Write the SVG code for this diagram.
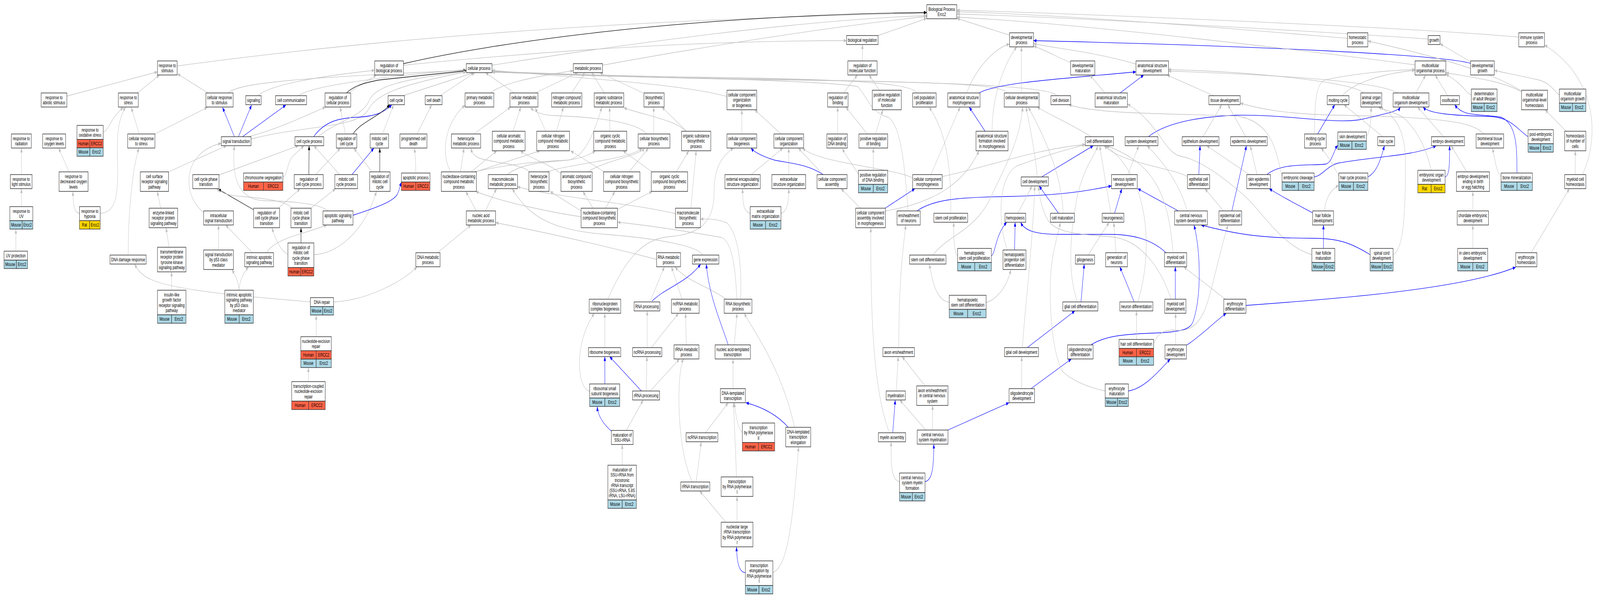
<svg xmlns="http://www.w3.org/2000/svg" width="6341" height="1531" viewBox="0 0 6341 1531" preserveAspectRatio="none">
<defs>
<marker id="ag" viewBox="0 0 10 8" refX="10" refY="4" markerWidth="13" markerHeight="9" markerUnits="userSpaceOnUse" orient="auto"><path d="M0,0L10,4L0,8z" fill="#c0c0c0"/></marker>
<marker id="ab" viewBox="0 0 10 8" refX="10" refY="4" markerWidth="13" markerHeight="9" markerUnits="userSpaceOnUse" orient="auto"><path d="M0,0L10,4L0,8z" fill="#0000ff"/></marker>
<marker id="ak" viewBox="0 0 10 8" refX="10" refY="4" markerWidth="13" markerHeight="9" markerUnits="userSpaceOnUse" orient="auto"><path d="M0,0L10,4L0,8z" fill="#000"/></marker>
</defs>
<style>
svg{width:100vw;height:100vh}
.e path{fill:none;stroke-width:1.3}
.e .g{stroke:#c0c0c0;marker-end:url(#ag)}
.e .b{stroke:#0000ff;marker-end:url(#ab)}
.e .k{stroke:#000;marker-end:url(#ak)}
.n rect{fill:#fff;stroke:#333;stroke-width:1.5}
.n .m{fill:#add8e6}
.n .h{fill:#ff6347}
.n .r{fill:#ffd700}
text{font-family:"Liberation Sans",Arial,sans-serif;font-size:13px;text-anchor:middle;fill:#000}
</style>
<rect width="6341" height="1531" fill="#fff"/>
<g id="connectors" class="e">
<path class="g" d="M702,169 Q2000,55 3673,34"/>
<path class="g" d="M265,246 L624,184"/>
<path class="g" d="M545,238 L632,192"/>
<path class="g" d="M824,238 L703,189"/>
<path class="g" d="M905,238 C940,212 1200,198 1848,180"/>
<path class="g" d="M1022,245 C1060,222 1200,200 1485,180"/>
<path class="g" d="M1183,245 C1230,222 1450,200 1848,178"/>
<path class="g" d="M409,338 C430,335 440,300 489,275"/>
<path class="g" d="M552,343 L520,275"/>
<path class="g" d="M614,343 L822,275"/>
<path class="b" d="M929,350 L882,275"/>
<path class="b" d="M945,350 L997,269"/>
<path class="b" d="M961,350 L1133,269"/>
<path class="g" d="M985,350 C1100,330 1200,300 1290,274"/>
<path class="g" d="M995,356 C1200,320 1420,330 1460,280 C1490,240 1600,215 1848,184"/>
<path class="g" d="M85,447 L85,379"/>
<path class="g" d="M274,440 L232,379"/>
<path class="g" d="M668,440 L898,373"/>
<path class="g" d="M868,448 L1183,373"/>
<path class="g" d="M1121,453 C1140,450 1135,420 1160,400 L1205,373"/>
<path class="g" d="M807,544 C720,500 720,390 877,367"/>
<path class="g" d="M1302,540 C1260,520 1150,515 1050,514 C940,512 918,450 929,373"/>
<path class="k" d="M1005,537 L864,484"/>
<path class="g" d="M1103,533 L1190,483"/>
<path class="g" d="M1155,533 C1140,515 1050,508 960,503 C900,500 880,495 858,483"/>
<path class="g" d="M1232,533 L1330,483"/>
<path class="k" d="M1193,622 L1193,583"/>
<path class="g" d="M1141,652 C1110,640 1090,610 1078,583"/>
<path class="g" d="M1244,652 C1330,650 1440,600 1492,490"/>
<path class="g" d="M637,533 L623,490"/>
<path class="g" d="M670,633 L658,583"/>
<path class="g" d="M680,743 L680,696"/>
<path class="g" d="M866,640 L866,576"/>
<path class="g" d="M1000,647 L894,576"/>
<path class="g" d="M1056,647 C1090,610 1200,600 1296,576"/>
<path class="g" d="M947,743 C945,720 935,708 919,690"/>
<path class="g" d="M947,743 C950,720 962,700 985,683"/>
<path class="g" d="M85,529 L85,483"/>
<path class="g" d="M63,643 L63,587"/>
<path class="g" d="M315,546 C293,546 289,520 289,490"/>
<path class="g" d="M397,546 C480,546 465,460 465,380 C465,320 480,292 498,274"/>
<path class="g" d="M508,653 C508,520 530,420 551,379"/>
<path class="g" d="M1230,773 C1000,760 700,745 600,716 C560,705 545,690 533,676"/>
<path class="g" d="M1322,773 C1450,770 1600,720 1653,683"/>
<path class="g" d="M1253,862 L1253,807"/>
<path class="g" d="M1222,977 L1222,941"/>
<path class="k" d="M1599,163 C1950,110 2700,40 3673,32"/>
<path class="g" d="M1599,167 C2200,128 2800,104 3355,104"/>
<path class="g" d="M1950,167 C2500,110 3200,50 3673,40"/>
<path class="g" d="M1380,238 L1492,192"/>
<path class="k" d="M1373,238 C1400,222 1430,214 1500,205 L1848,181"/>
<path class="g" d="M1597,245 L1878,186"/>
<path class="g" d="M1744,245 L1882,186"/>
<path class="g" d="M1944,238 C1990,214 2100,198 2272,181"/>
<path class="g" d="M2039,238 L1924,186"/>
<path class="g" d="M2121,238 L2290,186"/>
<path class="b" d="M1243,350 C1290,308 1350,302 1420,300 C1480,298 1520,290 1553,268"/>
<path class="g" d="M1260,350 C1330,312 1430,300 1460,262 C1480,225 1560,205 1848,183"/>
<path class="k" d="M1399,343 C1430,312 1500,300 1545,268"/>
<path class="g" d="M1369,343 L1348,274"/>
<path class="g" d="M1516,343 L1560,268"/>
<path class="g" d="M1653,343 L1711,268"/>
<path class="g" d="M1878,343 L2024,274"/>
<path class="g" d="M2033,336 L2064,274"/>
<path class="k" d="M1224,447 L1225,373"/>
<path class="g" d="M1251,447 L1349,379"/>
<path class="g" d="M1346,447 L1244,373"/>
<path class="b" d="M1395,447 L1482,379"/>
<path class="k" d="M1505,440 L1505,379"/>
<path class="g" d="M1474,440 L1402,379"/>
<path class="g" d="M1648,443 C1648,410 1645,400 1643,379"/>
<path class="b" d="M1399,551 C1500,530 1560,515 1575,497 C1582,487 1585,478 1591,466"/>
<path class="g" d="M1825,440 L1839,379"/>
<path class="g" d="M1867,440 L1969,386"/>
<path class="g" d="M1885,440 L2140,386"/>
<path class="g" d="M1878,440 C2030,418 2150,413 2250,410 C2310,405 2340,395 2360,386"/>
<path class="g" d="M1786,440 C1750,400 1755,320 1843,269"/>
<path class="g" d="M2100,442 C2080,420 1960,418 1900,405 C1880,400 1870,390 1866,379"/>
<path class="g" d="M2010,447 C2060,420 2150,415 2250,410 C2320,405 2360,330 2385,274"/>
<path class="g" d="M1923,540 L1968,483"/>
<path class="g" d="M1888,540 L1846,490"/>
<path class="g" d="M1734,647 L1867,576"/>
<path class="g" d="M2602,664 C2400,630 2200,600 1964,570"/>
<path class="g" d="M2677,547 C2500,520 2200,505 2050,478"/>
<path class="g" d="M2784,653 C2770,630 2600,610 2400,600 C2200,590 2100,560 2030,483"/>
<path class="g" d="M2303,555 C2200,545 2000,520 1885,490"/>
<path class="g" d="M2388,167 C2800,118 3300,68 3673,42"/>
<path class="g" d="M2266,238 L2317,186"/>
<path class="g" d="M2395,238 L2345,186"/>
<path class="g" d="M2549,238 L2377,186"/>
<path class="g" d="M2163,336 L2121,276"/>
<path class="g" d="M2205,336 L2233,274"/>
<path class="g" d="M2417,336 L2416,274"/>
<path class="g" d="M2563,343 C2520,310 2350,300 2200,296 C2150,295 2125,288 2102,276"/>
<path class="g" d="M2591,343 L2591,274"/>
<path class="g" d="M2721,336 L2623,274"/>
<path class="g" d="M2717,336 C2680,308 2560,296 2472,276"/>
<path class="g" d="M2881,247 C2700,215 2300,200 1950,180"/>
<path class="g" d="M3634,238 C3620,215 3400,205 3000,200 C2600,196 2200,190 1950,182"/>
<path class="g" d="M3990,238 C3980,215 3700,210 3000,202 C2600,198 2200,191 1950,183"/>
<path class="g" d="M4188,245 C4170,225 3900,210 3000,204 C2500,198 2200,192 1950,184"/>
<path class="g" d="M3599,540 C3585,420 3570,320 3520,300 C3450,290 3430,240 3400,222 C3300,206 2500,196 1950,185"/>
<path class="g" d="M2223,445 C2180,420 2100,405 2062,386"/>
<path class="g" d="M2330,440 C2400,410 2530,400 2555,379"/>
<path class="g" d="M2395,440 L2261,386"/>
<path class="g" d="M2493,440 L2570,379"/>
<path class="g" d="M2584,440 L2469,386"/>
<path class="g" d="M2680,440 L2730,386"/>
<path class="g" d="M2170,440 C2250,420 2500,408 2545,379"/>
<path class="g" d="M2350,533 L2310,490"/>
<path class="g" d="M2400,533 L2437,490"/>
<path class="g" d="M2447,536 L2585,490"/>
<path class="g" d="M2303,540 L2180,490"/>
<path class="g" d="M2920,766 C2915,680 2900,620 2860,608 C2700,590 2550,575 2447,569"/>
<path class="g" d="M2935,766 C2940,690 2930,600 2880,570 C2840,560 2800,560 2776,561"/>
<path class="g" d="M2738,533 L2759,386"/>
<path class="g" d="M2973,547 C2945,540 2943,520 2943,483"/>
<path class="g" d="M3095,547 C3120,540 3126,520 3126,483"/>
<path class="g" d="M2977,447 L3103,379"/>
<path class="g" d="M3126,447 L3126,379"/>
<path class="g" d="M2940,343 L2940,281"/>
<path class="g" d="M3095,343 L2991,281"/>
<path class="g" d="M3262,447 L3164,379"/>
<path class="b" d="M3262,447 C3200,420 3130,418 3070,410 C3020,400 2990,390 2976,379"/>
<path class="g" d="M3617,456 C3550,430 3250,420 3180,379"/>
<path class="g" d="M2409,766 C2480,660 2550,612 2650,606 C2790,600 2830,560 2830,490 C2830,430 2860,400 2907,379"/>
<path class="g" d="M2577,771 L2633,683"/>
<path class="g" d="M2703,766 L2661,683"/>
<path class="g" d="M2878,766 C2800,730 2720,720 2675,683"/>
<path class="b" d="M2584,771 C2640,735 2720,725 2777,676"/>
<path class="b" d="M2886,883 C2860,830 2810,760 2799,676"/>
<path class="g" d="M2397,890 L2397,802"/>
<path class="g" d="M2337,1002 C2280,990 2280,870 2356,802"/>
<path class="b" d="M2397,983 L2397,913"/>
<path class="b" d="M2542,1001 L2416,913"/>
<path class="g" d="M2565,890 L2565,796"/>
<path class="g" d="M2581,890 L2689,802"/>
<path class="g" d="M2720,883 L2717,802"/>
<path class="g" d="M2561,1001 L2564,913"/>
<path class="g" d="M2577,1001 L2693,919"/>
<path class="g" d="M2482,1102 L2549,1024"/>
<path class="b" d="M2423,1104 C2400,1090 2370,1070 2367,1041"/>
<path class="g" d="M2466,1191 L2466,1138"/>
<path class="g" d="M2910,883 L2921,802"/>
<path class="g" d="M2905,995 L2905,919"/>
<path class="g" d="M2796,1108 L2886,1031"/>
<path class="g" d="M2942,1108 C2930,1100 2918,1080 2910,1031"/>
<path class="b" d="M3124,1094 C3080,1062 3020,1042 2956,1031"/>
<path class="g" d="M3149,1094 C3100,950 3000,860 2949,802"/>
<path class="g" d="M2759,1234 L2779,1131"/>
<path class="g" d="M2744,1234 C2680,1150 2680,950 2710,919"/>
<path class="g" d="M2919,1221 L2907,1031"/>
<path class="g" d="M2877,1337 L2773,1257"/>
<path class="g" d="M2921,1337 L2921,1271"/>
<path class="b" d="M2954,1466 C2930,1466 2920,1440 2919,1400"/>
<path class="g" d="M3063,1466 C3120,1450 3140,1350 3165,1144"/>
<path class="g" d="M3480,91 L3673,47"/>
<path class="g" d="M3418,156 L3418,114"/>
<path class="g" d="M3343,238 L3398,192"/>
<path class="g" d="M3485,231 L3444,192"/>
<path class="g" d="M3319,343 L3320,274"/>
<path class="g" d="M3437,343 L3352,274"/>
<path class="g" d="M3470,343 L3499,281"/>
<path class="g" d="M3402,447 C3390,430 3350,400 3339,379"/>
<path class="g" d="M3461,436 L3461,379"/>
<path class="g" d="M3410,533 L3333,483"/>
<path class="b" d="M3508,533 L3626,483"/>
<path class="g" d="M3689,447 L3805,274"/>
<path class="g" d="M3734,452 C3900,430 4100,382 4301,370"/>
<path class="g" d="M3509,540 C3700,520 3820,470 3880,386"/>
<path class="b" d="M3634,540 C3700,510 3800,505 4000,503 C4200,500 4300,490 4405,476"/>
<path class="g" d="M3768,546 C3770,400 3740,330 3682,274"/>
<path class="g" d="M3794,655 C3785,650 3778,620 3780,569"/>
<path class="b" d="M3929,655 C3945,650 3945,600 3990,569"/>
<path class="b" d="M4021,640 L4023,569"/>
<path class="g" d="M3697,653 C3760,600 3870,590 3930,500 C3990,420 4045,350 4053,274"/>
<path class="g" d="M3992,640 C3950,560 3960,450 4030,425 C4150,395 4250,380 4301,370"/>
<path class="g" d="M3762,774 C3720,770 3700,740 3683,676"/>
<path class="g" d="M3908,774 C3940,770 3990,740 4006,690"/>
<path class="g" d="M3562,890 C3562,800 3565,700 3590,576"/>
<path class="g" d="M3552,1001 L3560,913"/>
<path class="g" d="M3666,988 L3575,913"/>
<path class="b" d="M3538,1108 L3548,1024"/>
<path class="g" d="M3525,1108 C3460,1000 3450,800 3451,583"/>
<path class="g" d="M3669,1101 L3566,1024"/>
<path class="g" d="M3696,1101 L3696,1038"/>
<path class="b" d="M3757,1101 L3999,1031"/>
<path class="g" d="M3565,1233 C3530,1230 3530,1180 3532,1131"/>
<path class="b" d="M3666,1233 C3700,1230 3700,1180 3701,1137"/>
<path class="g" d="M4052,890 C4060,800 4090,650 4101,476"/>
<path class="b" d="M4071,890 L4260,796"/>
<path class="g" d="M4049,995 L4049,913"/>
<path class="b" d="M4086,995 L4246,919"/>
<path class="g" d="M4380,1001 C4300,990 4240,970 4210,950 C4170,900 4160,800 4163,720 C4165,650 4195,600 4202,569"/>
<path class="g" d="M4034,546 L4090,476"/>
<path class="b" d="M4195,546 L4118,476"/>
<path class="g" d="M4111,453 C4100,380 4080,320 4066,274"/>
<path class="b" d="M4128,453 L4333,373"/>
<path class="g" d="M4213,546 C4210,450 4140,350 4075,274"/>
<path class="g" d="M4326,350 C4250,320 4150,290 4110,274"/>
<path class="g" d="M3831,238 C3870,170 3950,120 4001,113"/>
<path class="b" d="M3880,238 C3950,212 4200,202 4502,184"/>
<path class="b" d="M3904,336 L3841,274"/>
<path class="g" d="M3932,336 C3930,250 3980,160 4030,120"/>
<path class="g" d="M4048,238 L4048,120"/>
<path class="g" d="M4001,90 L3792,47"/>
<path class="g" d="M4243,160 C4200,150 4150,130 4096,118"/>
<path class="g" d="M4502,164 C4350,135 4200,125 4096,112"/>
<path class="b" d="M5828,162 C5700,140 5000,118 4096,104"/>
<path class="g" d="M5340,98 C5000,80 4300,40 3792,30"/>
<path class="g" d="M5660,100 C5400,88 4300,45 3792,36"/>
<path class="g" d="M6019,95 C5600,70 4300,36 3792,26"/>
<path class="g" d="M5608,166 C5300,140 4300,60 3792,44"/>
<path class="g" d="M4379,238 L4319,192"/>
<path class="b" d="M4439,238 L4533,192"/>
<path class="g" d="M4810,245 L4625,192"/>
<path class="g" d="M5880,343 C5840,315 5750,300 5300,295 C5100,292 5000,280 4915,264"/>
<path class="b" d="M4551,350 C4600,325 4700,300 4900,295 C5100,292 5300,320 5400,305 C5500,290 5540,285 5550,274"/>
<path class="b" d="M6056,350 C6010,330 5990,300 5900,298 C5750,296 5660,290 5640,274"/>
<path class="b" d="M5208,453 C5240,450 5260,425 5300,418 C5450,400 5600,400 5692,373"/>
<path class="b" d="M5202,545 C5130,520 5070,500 5030,483"/>
<path class="g" d="M5250,540 C5250,510 5280,480 5306,476"/>
<path class="b" d="M5222,343 L5290,268"/>
<path class="g" d="M5210,343 C5210,260 5215,215 5250,205 C5350,190 5500,180 5608,178"/>
<path class="g" d="M5306,450 C5280,420 5265,400 5235,379"/>
<path class="b" d="M5021,447 C5080,415 5200,425 5255,420 C5280,415 5285,385 5302,372"/>
<path class="g" d="M5081,452 C5060,400 5050,310 4900,297 C4600,290 4350,292 4235,268"/>
<path class="g" d="M5199,652 C5080,630 5000,540 4930,500 C4860,460 4760,410 4680,400 C4610,390 4600,320 4468,266"/>
<path class="b" d="M5245,636 L5245,576"/>
<path class="g" d="M4982,447 L4955,373"/>
<path class="g" d="M4951,447 L4782,373"/>
<path class="b" d="M4751,447 L4756,373"/>
<path class="g" d="M4705,452 C4650,430 4450,420 4375,373"/>
<path class="g" d="M4849,540 L4775,483"/>
<path class="b" d="M4882,540 L4940,373"/>
<path class="g" d="M4768,350 L4842,268"/>
<path class="g" d="M4937,350 L4866,268"/>
<path class="g" d="M4470,447 L4513,373"/>
<path class="b" d="M4417,546 L4446,483"/>
<path class="g" d="M4403,546 C4390,500 4370,420 4358,373"/>
<path class="b" d="M4670,540 L4509,483"/>
<path class="g" d="M4705,540 C4680,480 4620,420 4546,373"/>
<path class="g" d="M4312,653 L4396,569"/>
<path class="g" d="M4423,647 L4414,569"/>
<path class="b" d="M4284,773 L4297,676"/>
<path class="g" d="M4270,773 C4230,700 4240,600 4270,500 C4300,420 4340,400 4350,373"/>
<path class="b" d="M4495,773 L4438,683"/>
<path class="g" d="M4509,773 C4570,650 4560,450 4380,373"/>
<path class="g" d="M4649,647 C4630,500 4580,420 4385,373"/>
<path class="b" d="M4621,647 C4560,610 4480,600 4400,600 L4200,600 C4100,600 4060,590 4045,569"/>
<path class="g" d="M4856,766 L4691,683"/>
<path class="b" d="M4658,766 L4658,683"/>
<path class="g" d="M4642,768 C4610,700 4530,612 4400,606 C4300,600 4180,600 4150,560 C4125,530 4120,500 4115,476"/>
<path class="b" d="M4323,883 C4380,860 4450,855 4600,852 C4700,848 4720,840 4730,820 C4760,760 4760,650 4732,576"/>
<path class="g" d="M4504,869 L4504,796"/>
<path class="g" d="M4572,880 C4585,860 4600,845 4650,845 C4700,850 4740,840 4770,800 C4800,760 4830,650 4867,576"/>
<path class="g" d="M4659,883 L4659,802"/>
<path class="b" d="M4702,884 C4760,860 4820,820 4860,802"/>
<path class="b" d="M4472,1001 C4530,995 4580,960 4638,919"/>
<path class="b" d="M4937,782 C5300,765 5800,740 6007,684"/>
<path class="b" d="M5430,652 C5350,620 5300,610 5200,610 C5000,610 4900,600 4760,576"/>
<path class="g" d="M5521,652 C5560,640 5570,560 5570,420 C5570,330 5530,300 5470,274"/>
<path class="g" d="M5415,349 C5430,340 5434,300 5434,274"/>
<path class="g" d="M5480,350 L5326,268"/>
<path class="b" d="M5421,453 C5460,440 5475,400 5487,373"/>
<path class="g" d="M5320,245 C5350,220 5450,190 5608,180"/>
<path class="g" d="M5406,238 C5350,210 5000,185 4630,178"/>
<path class="g" d="M5540,238 C5450,205 5000,190 4630,182"/>
<path class="g" d="M5612,238 L5650,192"/>
<path class="g" d="M5737,245 L5688,192"/>
<path class="g" d="M5831,243 C5810,240 5800,215 5730,190"/>
<path class="g" d="M6030,235 C5950,205 5800,195 5730,186"/>
<path class="g" d="M6030,233 C5950,200 5800,160 5421,105"/>
<path class="g" d="M6180,243 C6160,235 6150,215 6100,205 C6000,190 5950,185 5922,180"/>
<path class="g" d="M5828,158 L5707,112"/>
<path class="g" d="M6207,336 L6123,281"/>
<path class="g" d="M6243,447 L6243,386"/>
<path class="g" d="M6272,447 C6340,350 6330,200 6121,115"/>
<path class="g" d="M6068,647 L6220,483"/>
<path class="g" d="M5721,350 L5618,274"/>
<path class="g" d="M5672,436 C5660,400 5630,340 5560,300 C5520,285 5480,280 5462,274"/>
<path class="b" d="M5727,453 C5745,450 5745,420 5745,373"/>
<path class="g" d="M5813,440 L5751,373"/>
<path class="g" d="M5837,540 L5837,490"/>
<path class="g" d="M5837,636 L5837,576"/>
<path class="g" d="M5949,453 C5930,440 5925,410 5915,379"/>
<path class="b" d="M6012,443 C6010,400 6020,320 5950,300 C5850,290 5800,300 5765,268"/>
</g>
<g id="nodes">
<g id="n-rs" class="n"><rect x="624" y="156" width="78" height="36"/><text x="663" y="172">response to</text><text x="663" y="185.3">stimulus</text></g>
<g id="n-ras" class="n"><rect x="163" y="238" width="102" height="36"/><text x="214" y="254">response to</text><text x="214" y="267.3">abiotic stimulus</text></g>
<g id="n-rst" class="n"><rect x="469" y="238" width="79" height="36"/><text x="508.5" y="254">response to</text><text x="508.5" y="267.3">stress</text></g>
<g id="n-crs" class="n"><rect x="816" y="238" width="108" height="36"/><text x="870" y="254">cellular response</text><text x="870" y="267.3">to stimulus</text></g>
<g id="n-sig" class="n"><rect x="974" y="245" width="61" height="23"/><text x="1004.5" y="261">signaling</text></g>
<g id="n-ccom" class="n"><rect x="1092" y="245" width="123" height="23"/><text x="1153.5" y="261">cell communication</text></g>
<g id="n-rrad" class="n"><rect x="45" y="343" width="79" height="36"/><text x="84.5" y="359">response to</text><text x="84.5" y="372.3">radiation</text></g>
<g id="n-rox" class="n"><rect x="169" y="343" width="91" height="36"/><text x="214.5" y="359">response to</text><text x="214.5" y="372.3">oxygen levels</text></g>
<g id="n-ros" class="n"><rect x="305" y="321" width="104" height="36"/><text x="357" y="337">response to</text><text x="357" y="350.3">oxidative stress</text><rect class="h" x="305" y="357" width="51" height="21.5"/><rect class="h" x="356" y="357" width="53" height="21.5"/><text x="330.5" y="372">Human</text><text x="382.5" y="372">ERCC2</text><rect class="m" x="305" y="378.5" width="51" height="21.5"/><rect class="m" x="356" y="378.5" width="53" height="21.5"/><text x="330.5" y="393.5">Mouse</text><text x="382.5" y="393.5">Ercc2</text></g>
<g id="n-crst" class="n"><rect x="506" y="343" width="108" height="36"/><text x="560" y="359">cellular response</text><text x="560" y="372.3">to stress</text></g>
<g id="n-st" class="n"><rect x="877" y="350" width="118" height="23"/><text x="936" y="366">signal transduction</text></g>
<g id="n-rls" class="n"><rect x="41" y="447" width="86" height="36"/><text x="84" y="463">response to</text><text x="84" y="476.3">light stimulus</text></g>
<g id="n-rdol" class="n"><rect x="234" y="440" width="115" height="50"/><text x="291.5" y="456">response to</text><text x="291.5" y="469.3">decreased oxygen</text><text x="291.5" y="482.6">levels</text></g>
<g id="n-csrsp" class="n"><rect x="556" y="440" width="112" height="50"/><text x="612" y="456">cell surface</text><text x="612" y="469.3">receptor signaling</text><text x="612" y="482.6">pathway</text></g>
<g id="n-ccpt" class="n"><rect x="764" y="447" width="104" height="36"/><text x="816" y="463">cell cycle phase</text><text x="816" y="476.3">transition</text></g>
<g id="n-chs" class="n"><rect x="965" y="443" width="156" height="23"/><text x="1043" y="459">chromosome segregation</text><rect class="h" x="965" y="466" width="79" height="21.5"/><rect class="h" x="1044" y="466" width="77" height="21.5"/><text x="1004.5" y="481">Human</text><text x="1082.5" y="481">ERCC2</text></g>
<g id="n-ruv" class="n"><rect x="39" y="529" width="91" height="36"/><text x="84.5" y="545">response to</text><text x="84.5" y="558.3">UV</text><rect class="m" x="39" y="565" width="49" height="21.5"/><rect class="m" x="88" y="565" width="42" height="21.5"/><text x="63.5" y="580">Mouse</text><text x="109" y="580">Ercc2</text></g>
<g id="n-rhyp" class="n"><rect x="315" y="529" width="82" height="36"/><text x="356" y="545">response to</text><text x="356" y="558.3">hypoxia</text><rect class="r" x="315" y="565" width="40" height="21.5"/><rect class="r" x="355" y="565" width="42" height="21.5"/><text x="335" y="580">Rat</text><text x="376" y="580">Ercc2</text></g>
<g id="n-elrp" class="n"><rect x="591" y="533" width="113" height="50"/><text x="647.5" y="549">enzyme-linked</text><text x="647.5" y="562.3">receptor protein</text><text x="647.5" y="575.6">signaling pathway</text></g>
<g id="n-ist" class="n"><rect x="807" y="540" width="118" height="36"/><text x="866" y="556">intracellular</text><text x="866" y="569.3">signal transduction</text></g>
<g id="n-rccpt" class="n"><rect x="1005" y="533" width="103" height="50"/><text x="1056.5" y="549">regulation of</text><text x="1056.5" y="562.3">cell cycle phase</text><text x="1056.5" y="575.6">transition</text></g>
<g id="n-uvp" class="n"><rect x="16" y="643" width="93" height="23"/><text x="62.5" y="659">UV protection</text><rect class="m" x="16" y="666" width="49" height="21.5"/><rect class="m" x="65" y="666" width="44" height="21.5"/><text x="40.5" y="681">Mouse</text><text x="87" y="681">Ercc2</text></g>
<g id="n-ddr" class="n"><rect x="436" y="653" width="143" height="23"/><text x="507.5" y="669">DNA damage response</text></g>
<g id="n-trtk" class="n"><rect x="624" y="633" width="113" height="63"/><text x="680.5" y="649">transmembrane</text><text x="680.5" y="662.3">receptor protein</text><text x="680.5" y="675.6">tyrosine kinase</text><text x="680.5" y="688.9">signaling pathway</text></g>
<g id="n-stp53" class="n"><rect x="807" y="640" width="118" height="50"/><text x="866" y="656">signal transduction</text><text x="866" y="669.3">by p53 class</text><text x="866" y="682.6">mediator</text></g>
<g id="n-ias" class="n"><rect x="970" y="647" width="114" height="36"/><text x="1027" y="663">intrinsic apoptotic</text><text x="1027" y="676.3">signaling pathway</text></g>
<g id="n-igf" class="n"><rect x="624" y="743" width="113" height="63"/><text x="680.5" y="759">insulin-like</text><text x="680.5" y="772.3">growth factor</text><text x="680.5" y="785.6">receptor signaling</text><text x="680.5" y="798.9">pathway</text><rect class="m" x="624" y="806" width="56" height="21.5"/><rect class="m" x="680" y="806" width="57" height="21.5"/><text x="652" y="821">Mouse</text><text x="708.5" y="821">Ercc2</text></g>
<g id="n-iasp53" class="n"><rect x="891" y="743" width="113" height="63"/><text x="947.5" y="759">intrinsic apoptotic</text><text x="947.5" y="772.3">signaling pathway</text><text x="947.5" y="785.6">by p53 class</text><text x="947.5" y="798.9">mediator</text><rect class="m" x="891" y="806" width="57" height="21.5"/><rect class="m" x="948" y="806" width="56" height="21.5"/><text x="919.5" y="821">Mouse</text><text x="976" y="821">Ercc2</text></g>
<g id="n-rbp" class="n"><rect x="1485" y="156" width="114" height="36"/><text x="1542" y="172">regulation of</text><text x="1542" y="185.3">biological process</text></g>
<g id="n-cp" class="n"><rect x="1848" y="163" width="102" height="23"/><text x="1899" y="179">cellular process</text></g>
<g id="n-rcp" class="n"><rect x="1288" y="238" width="102" height="36"/><text x="1339" y="254">regulation of</text><text x="1339" y="267.3">cellular process</text></g>
<g id="n-cc" class="n"><rect x="1538" y="245" width="65" height="23"/><text x="1570.5" y="261">cell cycle</text></g>
<g id="n-cd" class="n"><rect x="1685" y="245" width="67" height="23"/><text x="1718.5" y="261">cell death</text></g>
<g id="n-pmp" class="n"><rect x="1843" y="238" width="114" height="36"/><text x="1900" y="254">primary metabolic</text><text x="1900" y="267.3">process</text></g>
<g id="n-cmp" class="n"><rect x="2021" y="238" width="111" height="36"/><text x="2076.5" y="254">cellular metabolic</text><text x="2076.5" y="267.3">process</text></g>
<g id="n-ccp" class="n"><rect x="1169" y="350" width="114" height="23"/><text x="1226" y="366">cell cycle process</text></g>
<g id="n-rcc" class="n"><rect x="1333" y="343" width="81" height="36"/><text x="1373.5" y="359">regulation of</text><text x="1373.5" y="372.3">cell cycle</text></g>
<g id="n-mcc" class="n"><rect x="1467" y="343" width="73" height="36"/><text x="1503.5" y="359">mitotic cell</text><text x="1503.5" y="372.3">cycle</text></g>
<g id="n-pcd" class="n"><rect x="1585" y="343" width="107" height="36"/><text x="1638.5" y="359">programmed cell</text><text x="1638.5" y="372.3">death</text></g>
<g id="n-hmp" class="n"><rect x="1789" y="343" width="116" height="36"/><text x="1847" y="359">heterocycle</text><text x="1847" y="372.3">metabolic process</text></g>
<g id="n-cacmp" class="n"><rect x="1951" y="336" width="130" height="50"/><text x="2016" y="352">cellular aromatic</text><text x="2016" y="365.3">compound metabolic</text><text x="2016" y="378.6">process</text></g>
<g id="n-cncmp" class="n"><rect x="2127" y="336" width="130" height="50"/><text x="2192" y="352">cellular nitrogen</text><text x="2192" y="365.3">compound metabolic</text><text x="2192" y="378.6">process</text></g>
<g id="n-rccp" class="n"><rect x="1166" y="447" width="115" height="36"/><text x="1223.5" y="463">regulation of</text><text x="1223.5" y="476.3">cell cycle process</text></g>
<g id="n-mccp" class="n"><rect x="1327" y="447" width="90" height="36"/><text x="1372" y="463">mitotic cell</text><text x="1372" y="476.3">cycle process</text></g>
<g id="n-rmcc" class="n"><rect x="1465" y="440" width="81" height="50"/><text x="1505.5" y="456">regulation of</text><text x="1505.5" y="469.3">mitotic cell</text><text x="1505.5" y="482.6">cycle</text></g>
<g id="n-ap" class="n"><rect x="1591" y="443" width="113" height="23"/><text x="1647.5" y="459">apoptotic process</text><rect class="h" x="1591" y="466" width="57" height="21.5"/><rect class="h" x="1648" y="466" width="56" height="21.5"/><text x="1619.5" y="481">Human</text><text x="1676" y="481">ERCC2</text></g>
<g id="n-nccmp" class="n"><rect x="1749" y="440" width="139" height="50"/><text x="1818.5" y="456">nucleobase-containing</text><text x="1818.5" y="469.3">compound metabolic</text><text x="1818.5" y="482.6">process</text></g>
<g id="n-mmp" class="n"><rect x="1935" y="447" width="116" height="36"/><text x="1993" y="463">macromolecule</text><text x="1993" y="476.3">metabolic process</text></g>
<g id="n-hbp" class="n"><rect x="2096" y="440" width="80" height="50"/><text x="2136" y="456">heterocycle</text><text x="2136" y="469.3">biosynthetic</text><text x="2136" y="482.6">process</text></g>
<g id="n-mccpt" class="n"><rect x="1153" y="533" width="80" height="50"/><text x="1193" y="549">mitotic cell</text><text x="1193" y="562.3">cycle phase</text><text x="1193" y="575.6">transition</text></g>
<g id="n-asp" class="n"><rect x="1280" y="540" width="119" height="36"/><text x="1339.5" y="556">apoptotic signaling</text><text x="1339.5" y="569.3">pathway</text></g>
<g id="n-namp" class="n"><rect x="1848" y="540" width="116" height="36"/><text x="1906" y="556">nucleic acid</text><text x="1906" y="569.3">metabolic process</text></g>
<g id="n-rmccpt" class="n"><rect x="1141" y="622" width="103" height="63"/><text x="1192.5" y="638">regulation of</text><text x="1192.5" y="651.3">mitotic cell</text><text x="1192.5" y="664.6">cycle phase</text><text x="1192.5" y="677.9">transition</text><rect class="h" x="1141" y="685" width="51" height="21.5"/><rect class="h" x="1192" y="685" width="52" height="21.5"/><text x="1166.5" y="700">Human</text><text x="1218" y="700">ERCC2</text></g>
<g id="n-dnamp" class="n"><rect x="1648" y="647" width="96" height="36"/><text x="1696" y="663">DNA metabolic</text><text x="1696" y="676.3">process</text></g>
<g id="n-dnar" class="n"><rect x="1230" y="762" width="92" height="23"/><text x="1276" y="778">DNA repair</text><rect class="m" x="1230" y="785" width="49" height="21.5"/><rect class="m" x="1279" y="785" width="43" height="21.5"/><text x="1254.5" y="800">Mouse</text><text x="1300.5" y="800">Ercc2</text></g>
<g id="n-ner" class="n"><rect x="1192" y="862" width="121" height="36"/><text x="1252.5" y="878">nucleotide-excision</text><text x="1252.5" y="891.3">repair</text><rect class="h" x="1192" y="898" width="61" height="21.5"/><rect class="h" x="1253" y="898" width="60" height="21.5"/><text x="1222.5" y="913">Human</text><text x="1283" y="913">ERCC2</text><rect class="m" x="1192" y="919.5" width="61" height="21.5"/><rect class="m" x="1253" y="919.5" width="60" height="21.5"/><text x="1222.5" y="934.5">Mouse</text><text x="1283" y="934.5">Ercc2</text></g>
<g id="n-tcner" class="n"><rect x="1156" y="977" width="133" height="50"/><text x="1222.5" y="993">transcription-coupled</text><text x="1222.5" y="1006.3">nucleotide-excision</text><text x="1222.5" y="1019.6">repair</text><rect class="h" x="1156" y="1027" width="67" height="21.5"/><rect class="h" x="1223" y="1027" width="66" height="21.5"/><text x="1189.5" y="1042">Human</text><text x="1256" y="1042">ERCC2</text></g>
<g id="n-mp" class="n"><rect x="2272" y="163" width="116" height="23"/><text x="2330" y="179">metabolic process</text></g>
<g id="n-ncmp" class="n"><rect x="2186" y="238" width="120" height="36"/><text x="2246" y="254">nitrogen compound</text><text x="2246" y="267.3">metabolic process</text></g>
<g id="n-osmp" class="n"><rect x="2355" y="238" width="117" height="36"/><text x="2413.5" y="254">organic substance</text><text x="2413.5" y="267.3">metabolic process</text></g>
<g id="n-bsp" class="n"><rect x="2552" y="238" width="80" height="36"/><text x="2592" y="254">biosynthetic</text><text x="2592" y="267.3">process</text></g>
<g id="n-ccob" class="n"><rect x="2881" y="231" width="118" height="50"/><text x="2940" y="247">cellular component</text><text x="2940" y="260.3">organization</text><text x="2940" y="273.6">or biogenesis</text></g>
<g id="n-occmp" class="n"><rect x="2353" y="336" width="131" height="50"/><text x="2418.5" y="352">organic cyclic</text><text x="2418.5" y="365.3">compound metabolic</text><text x="2418.5" y="378.6">process</text></g>
<g id="n-cbp" class="n"><rect x="2529" y="343" width="126" height="36"/><text x="2592" y="359">cellular biosynthetic</text><text x="2592" y="372.3">process</text></g>
<g id="n-osbp" class="n"><rect x="2701" y="336" width="116" height="50"/><text x="2759" y="352">organic substance</text><text x="2759" y="365.3">biosynthetic</text><text x="2759" y="378.6">process</text></g>
<g id="n-ccb" class="n"><rect x="2881" y="343" width="118" height="36"/><text x="2940" y="359">cellular component</text><text x="2940" y="372.3">biogenesis</text></g>
<g id="n-cco" class="n"><rect x="3067" y="343" width="118" height="36"/><text x="3126" y="359">cellular component</text><text x="3126" y="372.3">organization</text></g>
<g id="n-acbp" class="n"><rect x="2223" y="440" width="124" height="50"/><text x="2285" y="456">aromatic compound</text><text x="2285" y="469.3">biosynthetic</text><text x="2285" y="482.6">process</text></g>
<g id="n-cncbp" class="n"><rect x="2392" y="440" width="144" height="50"/><text x="2464" y="456">cellular nitrogen</text><text x="2464" y="469.3">compound biosynthetic</text><text x="2464" y="482.6">process</text></g>
<g id="n-occbp" class="n"><rect x="2581" y="440" width="144" height="50"/><text x="2653" y="456">organic cyclic</text><text x="2653" y="469.3">compound biosynthetic</text><text x="2653" y="482.6">process</text></g>
<g id="n-eeso" class="n"><rect x="2873" y="447" width="140" height="36"/><text x="2943" y="463">external encapsulating</text><text x="2943" y="476.3">structure organization</text></g>
<g id="n-eso" class="n"><rect x="3059" y="447" width="134" height="36"/><text x="3126" y="463">extracellular</text><text x="3126" y="476.3">structure organization</text></g>
<g id="n-nccbp" class="n"><rect x="2303" y="533" width="144" height="50"/><text x="2375" y="549">nucleobase-containing</text><text x="2375" y="562.3">compound biosynthetic</text><text x="2375" y="575.6">process</text></g>
<g id="n-mbp" class="n"><rect x="2677" y="533" width="99" height="50"/><text x="2726.5" y="549">macromolecule</text><text x="2726.5" y="562.3">biosynthetic</text><text x="2726.5" y="575.6">process</text></g>
<g id="n-ecmo" class="n"><rect x="2973" y="529" width="122" height="36"/><text x="3034" y="545">extracellular</text><text x="3034" y="558.3">matrix organization</text><rect class="m" x="2973" y="565" width="61" height="21.5"/><rect class="m" x="3034" y="565" width="61" height="21.5"/><text x="3003.5" y="580">Mouse</text><text x="3064.5" y="580">Ercc2</text></g>
<g id="n-rnamp" class="n"><rect x="2602" y="647" width="95" height="36"/><text x="2649.5" y="663">RNA metabolic</text><text x="2649.5" y="676.3">process</text></g>
<g id="n-ge" class="n"><rect x="2744" y="653" width="105" height="23"/><text x="2796.5" y="669">gene expression</text></g>
<g id="n-rnpcb" class="n"><rect x="2335" y="766" width="125" height="36"/><text x="2397.5" y="782">ribonucleoprotein</text><text x="2397.5" y="795.3">complex biogenesis</text></g>
<g id="n-rnap" class="n"><rect x="2513" y="773" width="102" height="23"/><text x="2564" y="789">RNA processing</text></g>
<g id="n-ncrnamp" class="n"><rect x="2661" y="766" width="110" height="36"/><text x="2716" y="782">ncRNA metabolic</text><text x="2716" y="795.3">process</text></g>
<g id="n-rnabp" class="n"><rect x="2870" y="766" width="110" height="36"/><text x="2925" y="782">RNA biosynthetic</text><text x="2925" y="795.3">process</text></g>
<g id="n-rbg" class="n"><rect x="2332" y="890" width="128" height="23"/><text x="2396" y="906">ribosome biogenesis</text></g>
<g id="n-ncrnap" class="n"><rect x="2507" y="890" width="116" height="23"/><text x="2565" y="906">ncRNA processing</text></g>
<g id="n-rrnamp" class="n"><rect x="2671" y="883" width="99" height="36"/><text x="2720.5" y="899">rRNA metabolic</text><text x="2720.5" y="912.3">process</text></g>
<g id="n-natt" class="n"><rect x="2834" y="883" width="140" height="36"/><text x="2904" y="899">nucleic acid-templated</text><text x="2904" y="912.3">transcription</text></g>
<g id="n-rssb" class="n"><rect x="2337" y="983" width="119" height="36"/><text x="2396.5" y="999">ribosomal small</text><text x="2396.5" y="1012.3">subunit biogenesis</text><rect class="m" x="2337" y="1019" width="60" height="21.5"/><rect class="m" x="2397" y="1019" width="59" height="21.5"/><text x="2367" y="1034">Mouse</text><text x="2426.5" y="1034">Ercc2</text></g>
<g id="n-rrnap" class="n"><rect x="2507" y="1001" width="107" height="23"/><text x="2560.5" y="1017">rRNA processing</text></g>
<g id="n-dtt" class="n"><rect x="2855" y="995" width="99" height="36"/><text x="2904.5" y="1011">DNA-templated</text><text x="2904.5" y="1024.3">transcription</text></g>
<g id="n-mssu" class="n"><rect x="2423" y="1102" width="86" height="36"/><text x="2466" y="1118">maturation of</text><text x="2466" y="1131.3">SSU-rRNA</text></g>
<g id="n-ncrnat" class="n"><rect x="2719" y="1108" width="126" height="23"/><text x="2782" y="1124">ncRNA transcription</text></g>
<g id="n-trp2" class="n"><rect x="2942" y="1083" width="128" height="50"/><text x="3006" y="1099">transcription</text><text x="3006" y="1112.3">by RNA polymerase</text><text x="3006" y="1125.6">II</text><rect class="h" x="2942" y="1133" width="64" height="21.5"/><rect class="h" x="3006" y="1133" width="64" height="21.5"/><text x="2974" y="1148">Human</text><text x="3038" y="1148">ERCC2</text></g>
<g id="n-dtte" class="n"><rect x="3114" y="1094" width="99" height="50"/><text x="3163.5" y="1110">DNA-templated</text><text x="3163.5" y="1123.3">transcription</text><text x="3163.5" y="1136.6">elongation</text></g>
<g id="n-mssut" class="n"><rect x="2409" y="1191" width="113" height="89"/><text x="2465.5" y="1207">maturation of</text><text x="2465.5" y="1220.3">SSU-rRNA from</text><text x="2465.5" y="1233.6">tricistronic</text><text x="2465.5" y="1246.9">rRNA transcript</text><text x="2465.5" y="1260.2">(SSU-rRNA, 5.8S</text><text x="2465.5" y="1273.5">rRNA, LSU-rRNA)</text><rect class="m" x="2409" y="1280" width="57" height="21.5"/><rect class="m" x="2466" y="1280" width="56" height="21.5"/><text x="2437.5" y="1295">Mouse</text><text x="2494" y="1295">Ercc2</text></g>
<g id="n-rrnat" class="n"><rect x="2698" y="1234" width="115" height="23"/><text x="2755.5" y="1250">rRNA transcription</text></g>
<g id="n-trp1" class="n"><rect x="2858" y="1221" width="126" height="50"/><text x="2921" y="1237">transcription</text><text x="2921" y="1250.3">by RNA polymerase</text><text x="2921" y="1263.6">I</text></g>
<g id="n-nlrt" class="n"><rect x="2858" y="1337" width="126" height="63"/><text x="2921" y="1353">nucleolar large</text><text x="2921" y="1366.3">rRNA transcription</text><text x="2921" y="1379.6">by RNA polymerase</text><text x="2921" y="1392.9">I</text></g>
<g id="n-terp1" class="n"><rect x="2954" y="1436" width="109" height="63"/><text x="3008.5" y="1452">transcription</text><text x="3008.5" y="1465.3">elongation by</text><text x="3008.5" y="1478.6">RNA polymerase</text><text x="3008.5" y="1491.9">I</text><rect class="m" x="2954" y="1499" width="54" height="21.5"/><rect class="m" x="3008" y="1499" width="55" height="21.5"/><text x="2981" y="1514">Mouse</text><text x="3035.5" y="1514">Ercc2</text></g>
<g id="n-bp" class="n"><rect x="3673" y="12" width="119" height="36"/><text x="3732.5" y="28">Biological Process</text><text x="3732.5" y="41.3">Ercc2</text></g>
<g id="n-br" class="n"><rect x="3355" y="91" width="125" height="23"/><text x="3417.5" y="107">biological regulation</text></g>
<g id="n-dp" class="n"><rect x="4001" y="84" width="95" height="36"/><text x="4048.5" y="100">developmental</text><text x="4048.5" y="113.3">process</text></g>
<g id="n-rmf" class="n"><rect x="3360" y="156" width="116" height="36"/><text x="3418" y="172">regulation of</text><text x="3418" y="185.3">molecular function</text></g>
<g id="n-rbd" class="n"><rect x="3280" y="238" width="81" height="36"/><text x="3320.5" y="254">regulation of</text><text x="3320.5" y="267.3">binding</text></g>
<g id="n-prmf" class="n"><rect x="3457" y="231" width="115" height="50"/><text x="3514.5" y="247">positive regulation</text><text x="3514.5" y="260.3">of molecular</text><text x="3514.5" y="273.6">function</text></g>
<g id="n-cpp" class="n"><rect x="3617" y="238" width="93" height="36"/><text x="3663.5" y="254">cell population</text><text x="3663.5" y="267.3">proliferation</text></g>
<g id="n-asm" class="n"><rect x="3756" y="238" width="128" height="36"/><text x="3820" y="254">anatomical structure</text><text x="3820" y="267.3">morphogenesis</text></g>
<g id="n-cdp" class="n"><rect x="3980" y="238" width="138" height="36"/><text x="4049" y="254">cellular developmental</text><text x="4049" y="267.3">process</text></g>
<g id="n-cdiv" class="n"><rect x="4165" y="245" width="78" height="23"/><text x="4204" y="261">cell division</text></g>
<g id="n-rdb" class="n"><rect x="3277" y="343" width="81" height="36"/><text x="3317.5" y="359">regulation of</text><text x="3317.5" y="372.3">DNA binding</text></g>
<g id="n-prb" class="n"><rect x="3404" y="343" width="114" height="36"/><text x="3461" y="359">positive regulation</text><text x="3461" y="372.3">of binding</text></g>
<g id="n-asfm" class="n"><rect x="3868" y="336" width="127" height="50"/><text x="3931.5" y="352">anatomical structure</text><text x="3931.5" y="365.3">formation involved</text><text x="3931.5" y="378.6">in morphogenesis</text></g>
<g id="n-cca" class="n"><rect x="3238" y="447" width="119" height="36"/><text x="3297.5" y="463">cellular component</text><text x="3297.5" y="476.3">assembly</text></g>
<g id="n-prdb" class="n"><rect x="3402" y="436" width="116" height="36"/><text x="3460" y="452">positive regulation</text><text x="3460" y="465.3">of DNA binding</text><rect class="m" x="3402" y="472" width="59" height="21.5"/><rect class="m" x="3461" y="472" width="57" height="21.5"/><text x="3431.5" y="487">Mouse</text><text x="3489.5" y="487">Ercc2</text></g>
<g id="n-ccm" class="n"><rect x="3617" y="447" width="117" height="36"/><text x="3675.5" y="463">cellular component</text><text x="3675.5" y="476.3">morphogenesis</text></g>
<g id="n-cdev" class="n"><rect x="4047" y="453" width="108" height="23"/><text x="4101" y="469">cell development</text></g>
<g id="n-ccaim" class="n"><rect x="3391" y="533" width="118" height="50"/><text x="3450" y="549">cellular component</text><text x="3450" y="562.3">assembly involved</text><text x="3450" y="575.6">in morphogenesis</text></g>
<g id="n-eon" class="n"><rect x="3555" y="540" width="92" height="36"/><text x="3601" y="556">ensheathment</text><text x="3601" y="569.3">of neurons</text></g>
<g id="n-scp" class="n"><rect x="3701" y="546" width="134" height="23"/><text x="3768" y="562">stem cell proliferation</text></g>
<g id="n-hem" class="n"><rect x="3983" y="546" width="82" height="23"/><text x="4024" y="562">hemopoiesis</text></g>
<g id="n-cmat" class="n"><rect x="4163" y="546" width="95" height="23"/><text x="4210.5" y="562">cell maturation</text></g>
<g id="n-scd" class="n"><rect x="3605" y="653" width="144" height="23"/><text x="3677" y="669">stem cell differentiation</text></g>
<g id="n-hscp" class="n"><rect x="3795" y="636" width="134" height="36"/><text x="3862" y="652">hematopoietic</text><text x="3862" y="665.3">stem cell proliferation</text><rect class="m" x="3795" y="672" width="68" height="21.5"/><rect class="m" x="3863" y="672" width="66" height="21.5"/><text x="3829" y="687">Mouse</text><text x="3896" y="687">Ercc2</text></g>
<g id="n-hpcd" class="n"><rect x="3975" y="640" width="91" height="50"/><text x="4020.5" y="656">hematopoietic</text><text x="4020.5" y="669.3">progenitor cell</text><text x="4020.5" y="682.6">differentiation</text></g>
<g id="n-hscd" class="n"><rect x="3762" y="756" width="146" height="36"/><text x="3835" y="772">hematopoietic</text><text x="3835" y="785.3">stem cell differentiation</text><rect class="m" x="3762" y="792" width="73" height="21.5"/><rect class="m" x="3835" y="792" width="73" height="21.5"/><text x="3798.5" y="807">Mouse</text><text x="3871.5" y="807">Ercc2</text></g>
<g id="n-ae" class="n"><rect x="3499" y="890" width="125" height="23"/><text x="3561.5" y="906">axon ensheathment</text></g>
<g id="n-gcdev" class="n"><rect x="3981" y="890" width="135" height="23"/><text x="4048.5" y="906">glial cell development</text></g>
<g id="n-gcd" class="n"><rect x="4212" y="773" width="139" height="23"/><text x="4281.5" y="789">glial cell differentiation</text></g>
<g id="n-myel" class="n"><rect x="3512" y="1001" width="76" height="23"/><text x="3550" y="1017">myelination</text></g>
<g id="n-aecns" class="n"><rect x="3633" y="988" width="124" height="50"/><text x="3695" y="1004">axon ensheathment</text><text x="3695" y="1017.3">in central nervous</text><text x="3695" y="1030.6">system</text></g>
<g id="n-odev" class="n"><rect x="3999" y="995" width="101" height="36"/><text x="4049.5" y="1011">oligodendrocyte</text><text x="4049.5" y="1024.3">development</text></g>
<g id="n-odif" class="n"><rect x="4231" y="883" width="101" height="36"/><text x="4281.5" y="899">oligodendrocyte</text><text x="4281.5" y="912.3">differentiation</text></g>
<g id="n-ma" class="n"><rect x="3481" y="1108" width="108" height="23"/><text x="3535" y="1124">myelin assembly</text></g>
<g id="n-cnsm" class="n"><rect x="3635" y="1101" width="122" height="36"/><text x="3696" y="1117">central nervous</text><text x="3696" y="1130.3">system myelination</text></g>
<g id="n-cnsmf" class="n"><rect x="3565" y="1211" width="101" height="50"/><text x="3615.5" y="1227">central nervous</text><text x="3615.5" y="1240.3">system myelin</text><text x="3615.5" y="1253.6">formation</text><rect class="m" x="3565" y="1261" width="51" height="21.5"/><rect class="m" x="3616" y="1261" width="50" height="21.5"/><text x="3590.5" y="1276">Mouse</text><text x="3641" y="1276">Ercc2</text></g>
<g id="n-dm" class="n"><rect x="4243" y="156" width="96" height="36"/><text x="4291" y="172">developmental</text><text x="4291" y="185.3">maturation</text></g>
<g id="n-asd" class="n"><rect x="4502" y="156" width="129" height="36"/><text x="4566.5" y="172">anatomical structure</text><text x="4566.5" y="185.3">development</text></g>
<g id="n-asmat" class="n"><rect x="4340" y="238" width="128" height="36"/><text x="4404" y="254">anatomical structure</text><text x="4404" y="267.3">maturation</text></g>
<g id="n-td" class="n"><rect x="4791" y="245" width="124" height="23"/><text x="4853" y="261">tissue development</text></g>
<g id="n-mc" class="n"><rect x="5260" y="245" width="86" height="23"/><text x="5303" y="261">molting cycle</text></g>
<g id="n-cdif" class="n"><rect x="4301" y="350" width="112" height="23"/><text x="4357" y="366">cell differentiation</text></g>
<g id="n-sd" class="n"><rect x="4459" y="350" width="130" height="23"/><text x="4524" y="366">system development</text></g>
<g id="n-epd" class="n"><rect x="4685" y="350" width="146" height="23"/><text x="4758" y="366">epithelium development</text></g>
<g id="n-edd" class="n"><rect x="4877" y="350" width="145" height="23"/><text x="4949.5" y="366">epidermis development</text></g>
<g id="n-mcp" class="n"><rect x="5170" y="343" width="86" height="36"/><text x="5213" y="359">molting cycle</text><text x="5213" y="372.3">process</text></g>
<g id="n-nsd" class="n"><rect x="4405" y="447" width="102" height="36"/><text x="4456" y="463">nervous system</text><text x="4456" y="476.3">development</text></g>
<g id="n-ecd" class="n"><rect x="4706" y="447" width="88" height="36"/><text x="4750" y="463">epithelial cell</text><text x="4750" y="476.3">differentiation</text></g>
<g id="n-sed" class="n"><rect x="4941" y="447" width="94" height="36"/><text x="4988" y="463">skin epidermis</text><text x="4988" y="476.3">development</text></g>
<g id="n-ec" class="n"><rect x="5081" y="443" width="127" height="23"/><text x="5144.5" y="459">embryonic cleavage</text><rect class="m" x="5081" y="466" width="65" height="21.5"/><rect class="m" x="5146" y="466" width="62" height="21.5"/><text x="5113.5" y="481">Mouse</text><text x="5177" y="481">Ercc2</text></g>
<g id="n-ng" class="n"><rect x="4368" y="546" width="86" height="23"/><text x="4411" y="562">neurogenesis</text></g>
<g id="n-cnsd" class="n"><rect x="4655" y="540" width="130" height="36"/><text x="4720" y="556">central nervous</text><text x="4720" y="569.3">system development</text></g>
<g id="n-epcd" class="n"><rect x="4831" y="540" width="90" height="36"/><text x="4876" y="556">epidermal cell</text><text x="4876" y="569.3">differentiation</text></g>
<g id="n-hfd" class="n"><rect x="5202" y="540" width="83" height="36"/><text x="5243.5" y="556">hair follicle</text><text x="5243.5" y="569.3">development</text></g>
<g id="n-gg" class="n"><rect x="4262" y="653" width="76" height="23"/><text x="4300" y="669">gliogenesis</text></g>
<g id="n-gon" class="n"><rect x="4382" y="647" width="86" height="36"/><text x="4425" y="663">generation of</text><text x="4425" y="676.3">neurons</text></g>
<g id="n-mycd" class="n"><rect x="4615" y="647" width="88" height="36"/><text x="4659" y="663">myeloid cell</text><text x="4659" y="676.3">differentiation</text></g>
<g id="n-hfm" class="n"><rect x="5199" y="636" width="91" height="36"/><text x="5244.5" y="652">hair follicle</text><text x="5244.5" y="665.3">maturation</text><rect class="m" x="5199" y="672" width="49" height="21.5"/><rect class="m" x="5248" y="672" width="42" height="21.5"/><text x="5223.5" y="687">Mouse</text><text x="5269" y="687">Ercc2</text></g>
<g id="n-nd" class="n"><rect x="4438" y="773" width="131" height="23"/><text x="4503.5" y="789">neuron differentiation</text></g>
<g id="n-mycdev" class="n"><rect x="4616" y="766" width="84" height="36"/><text x="4658" y="782">myeloid cell</text><text x="4658" y="795.3">development</text></g>
<g id="n-erd" class="n"><rect x="4850" y="766" width="88" height="36"/><text x="4894" y="782">erythrocyte</text><text x="4894" y="795.3">differentiation</text></g>
<g id="n-hcd" class="n"><rect x="4435" y="869" width="137" height="23"/><text x="4503.5" y="885">hair cell differentiation</text><rect class="h" x="4435" y="892" width="69" height="21.5"/><rect class="h" x="4504" y="892" width="68" height="21.5"/><text x="4469.5" y="907">Human</text><text x="4538" y="907">ERCC2</text><rect class="m" x="4435" y="913.5" width="69" height="21.5"/><rect class="m" x="4504" y="913.5" width="68" height="21.5"/><text x="4469.5" y="928.5">Mouse</text><text x="4538" y="928.5">Ercc2</text></g>
<g id="n-erdev" class="n"><rect x="4617" y="883" width="85" height="36"/><text x="4659.5" y="899">erythrocyte</text><text x="4659.5" y="912.3">development</text></g>
<g id="n-erm" class="n"><rect x="4380" y="983" width="92" height="36"/><text x="4426" y="999">erythrocyte</text><text x="4426" y="1012.3">maturation</text><rect class="m" x="4380" y="1019" width="49" height="21.5"/><rect class="m" x="4429" y="1019" width="43" height="21.5"/><text x="4404.5" y="1034">Mouse</text><text x="4450.5" y="1034">Ercc2</text></g>
<g id="n-hp" class="n"><rect x="5340" y="84" width="81" height="36"/><text x="5380.5" y="100">homeostatic</text><text x="5380.5" y="113.3">process</text></g>
<g id="n-gr" class="n"><rect x="5660" y="91" width="47" height="23"/><text x="5683.5" y="107">growth</text></g>
<g id="n-isp" class="n"><rect x="6019" y="84" width="102" height="36"/><text x="6070" y="100">immune system</text><text x="6070" y="113.3">process</text></g>
<g id="n-mop" class="n"><rect x="5608" y="156" width="122" height="36"/><text x="5669" y="172">multicellular</text><text x="5669" y="185.3">organismal process</text></g>
<g id="n-dg" class="n"><rect x="5828" y="156" width="94" height="36"/><text x="5875" y="172">developmental</text><text x="5875" y="185.3">growth</text></g>
<g id="n-aod" class="n"><rect x="5393" y="238" width="83" height="36"/><text x="5434.5" y="254">animal organ</text><text x="5434.5" y="267.3">development</text></g>
<g id="n-mod" class="n"><rect x="5521" y="238" width="142" height="36"/><text x="5592" y="254">multicellular</text><text x="5592" y="267.3">organism development</text></g>
<g id="n-oss" class="n"><rect x="5709" y="245" width="75" height="23"/><text x="5746.5" y="261">ossification</text></g>
<g id="n-dal" class="n"><rect x="5831" y="228" width="102" height="36"/><text x="5882" y="244">determination</text><text x="5882" y="257.3">of adult lifespan</text><rect class="m" x="5831" y="264" width="51" height="21.5"/><rect class="m" x="5882" y="264" width="51" height="21.5"/><text x="5856.5" y="279">Mouse</text><text x="5907.5" y="279">Ercc2</text></g>
<g id="n-molh" class="n"><rect x="6030" y="231" width="103" height="50"/><text x="6081.5" y="247">multicellular</text><text x="6081.5" y="260.3">organismal-level</text><text x="6081.5" y="273.6">homeostasis</text></g>
<g id="n-mog" class="n"><rect x="6180" y="228" width="105" height="36"/><text x="6232.5" y="244">multicellular</text><text x="6232.5" y="257.3">organism growth</text><rect class="m" x="6180" y="264" width="52" height="21.5"/><rect class="m" x="6232" y="264" width="53" height="21.5"/><text x="6206" y="279">Mouse</text><text x="6258.5" y="279">Ercc2</text></g>
<g id="n-skd" class="n"><rect x="5302" y="338" width="113" height="23"/><text x="5358.5" y="354">skin development</text><rect class="m" x="5302" y="361" width="56" height="21.5"/><rect class="m" x="5358" y="361" width="57" height="21.5"/><text x="5330" y="376">Mouse</text><text x="5386.5" y="376">Ercc2</text></g>
<g id="n-hc" class="n"><rect x="5460" y="350" width="67" height="23"/><text x="5493.5" y="366">hair cycle</text></g>
<g id="n-ed" class="n"><rect x="5673" y="350" width="131" height="23"/><text x="5738.5" y="366">embryo development</text></g>
<g id="n-btd" class="n"><rect x="5850" y="343" width="109" height="36"/><text x="5904.5" y="359">biomineral tissue</text><text x="5904.5" y="372.3">development</text></g>
<g id="n-ped" class="n"><rect x="6056" y="332" width="100" height="36"/><text x="6106" y="348">post-embryonic</text><text x="6106" y="361.3">development</text><rect class="m" x="6056" y="368" width="50" height="21.5"/><rect class="m" x="6106" y="368" width="50" height="21.5"/><text x="6081" y="383">Mouse</text><text x="6131" y="383">Ercc2</text></g>
<g id="n-hnc" class="n"><rect x="6201" y="336" width="84" height="50"/><text x="6243" y="352">homeostasis</text><text x="6243" y="365.3">of number of</text><text x="6243" y="378.6">cells</text></g>
<g id="n-hcp" class="n"><rect x="5306" y="443" width="115" height="23"/><text x="5363.5" y="459">hair cycle process</text><rect class="m" x="5306" y="466" width="58" height="21.5"/><rect class="m" x="5364" y="466" width="57" height="21.5"/><text x="5335" y="481">Mouse</text><text x="5392.5" y="481">Ercc2</text></g>
<g id="n-eod" class="n"><rect x="5619" y="436" width="108" height="36"/><text x="5673" y="452">embryonic organ</text><text x="5673" y="465.3">development</text><rect class="r" x="5619" y="472" width="53" height="21.5"/><rect class="r" x="5672" y="472" width="55" height="21.5"/><text x="5645.5" y="487">Rat</text><text x="5699.5" y="487">Ercc2</text></g>
<g id="n-edeb" class="n"><rect x="5772" y="440" width="131" height="50"/><text x="5837.5" y="456">embryo development</text><text x="5837.5" y="469.3">ending in birth</text><text x="5837.5" y="482.6">or egg hatching</text></g>
<g id="n-bm" class="n"><rect x="5949" y="443" width="124" height="23"/><text x="6011" y="459">bone mineralization</text><rect class="m" x="5949" y="466" width="63" height="21.5"/><rect class="m" x="6012" y="466" width="61" height="21.5"/><text x="5980.5" y="481">Mouse</text><text x="6042.5" y="481">Ercc2</text></g>
<g id="n-mch" class="n"><rect x="6201" y="447" width="84" height="36"/><text x="6243" y="463">myeloid cell</text><text x="6243" y="476.3">homeostasis</text></g>
<g id="n-ced" class="n"><rect x="5775" y="540" width="124" height="36"/><text x="5837" y="556">chordate embryonic</text><text x="5837" y="569.3">development</text></g>
<g id="n-scdev" class="n"><rect x="5430" y="636" width="91" height="36"/><text x="5475.5" y="652">spinal cord</text><text x="5475.5" y="665.3">development</text><rect class="m" x="5430" y="672" width="48" height="21.5"/><rect class="m" x="5478" y="672" width="43" height="21.5"/><text x="5454" y="687">Mouse</text><text x="5499.5" y="687">Ercc2</text></g>
<g id="n-iued" class="n"><rect x="5777" y="636" width="119" height="36"/><text x="5836.5" y="652">in utero embryonic</text><text x="5836.5" y="665.3">development</text><rect class="m" x="5777" y="672" width="60" height="21.5"/><rect class="m" x="5837" y="672" width="59" height="21.5"/><text x="5807" y="687">Mouse</text><text x="5866.5" y="687">Ercc2</text></g>
<g id="n-eh" class="n"><rect x="6007" y="647" width="84" height="36"/><text x="6049" y="663">erythrocyte</text><text x="6049" y="676.3">homeostasis</text></g>
</g>
</svg>
